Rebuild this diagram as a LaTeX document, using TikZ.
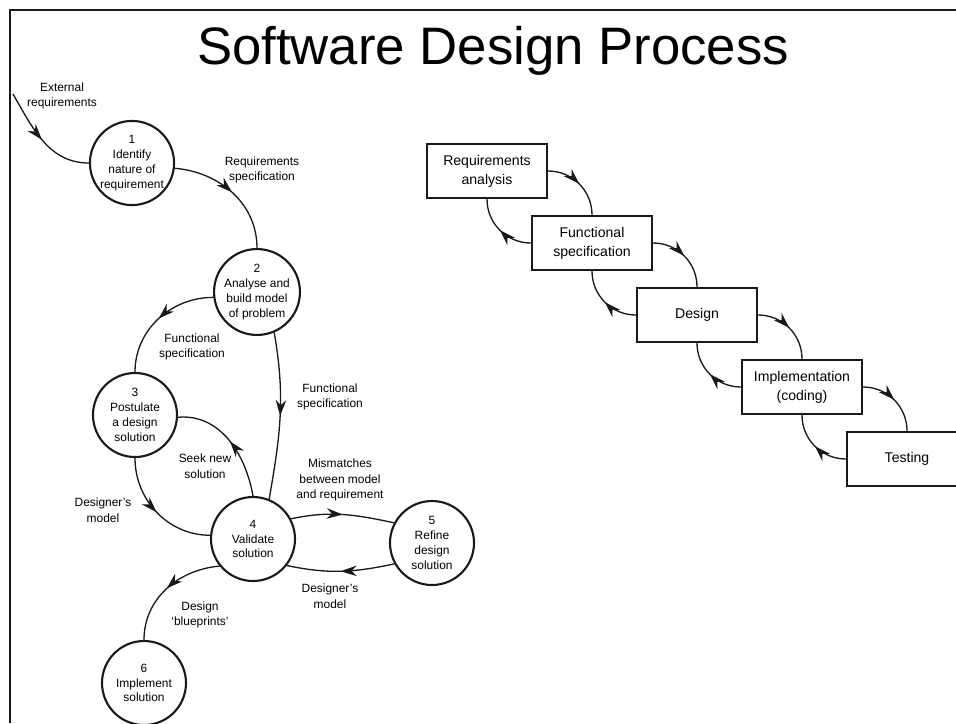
\documentclass[tikz,border=0pt]{standalone}
\usepackage{fontspec}
\setmainfont{Liberation Sans}
\usepackage{tikz}
\usetikzlibrary{arrows.meta, decorations.markings}
\definecolor{mydark}{RGB}{25,25,25}
\tikzset{
  stage/.style={circle, draw=mydark, line width=1.2pt, minimum size=1.68cm,
    inner sep=0pt, align=center, font=\fontsize{6.8}{8.4}\selectfont},
  block/.style={rectangle, draw=mydark, line width=1.3pt, minimum width=2.4cm,
    minimum height=1.08cm, align=center, font=\fontsize{8}{10.8}\selectfont},
  lbl/.style={align=center, inner sep=0pt, font=\fontsize{6.8}{8.8}\selectfont},
  flow/.style={line width=0.75pt, color=mydark, postaction={decorate},
    decoration={markings, mark=at position 0.5 with {\arrow{Stealth[length=3.2mm, width=2.1mm]}}}}
}
\begin{document}
\begin{tikzpicture}
  \useasboundingbox (0,0) rectangle (19.12,-14.46);
  \clip (0,0) rectangle (19.12,-14.46);
  \draw[line width=1.6pt, color=mydark] (0.2,-14.46) -- (0.2,-0.2) -- (19.12,-0.2);
  \node[font=\fontsize{30}{36}\selectfont, anchor=base] (title) at (9.86,-1.28) {Software Design Process};

  % design stages
  \node[stage] (identify) at (2.64,-3.26) {1\\Identify\\nature of\\requirement};
  \node[stage] (analyse) at (5.14,-5.84) {2\\Analyse and\\build model\\of problem};
  \node[stage] (postulate) at (2.70,-8.30) {3\\Postulate\\a design\\solution};
  \node[stage] (validate) at (5.06,-10.78) {4\\Validate\\solution};
  \node[stage] (refine) at (8.64,-10.86) {5\\Refine\\design\\solution};
  \node[stage] (implement) at (2.88,-13.66) {6\\Implement\\solution};
  \coordinate (extin) at (0.26,-1.88);

  \draw[flow] (extin) to[out=-60, in=180] (identify.west);
  \draw[flow] (identify.-7) to[out=-5, in=90] (analyse.north);
  \draw[flow] (analyse.187) to[out=180, in=90] (postulate.north);
  \draw[flow] (analyse.-67) to[out=-80, in=80] (validate.68);
  \draw[flow] (validate.north) to[out=100, in=5] (postulate.-3);
  \draw[flow] (postulate.south) to[out=-90, in=180] (validate.175);
  \draw[flow] (validate.28) to[out=12, in=168] (refine.152);
  \draw[flow] (refine.209) to[out=192, in=-12] (validate.-38);
  \draw[flow] (validate.219) to[out=185, in=90] (implement.north);

  \node[lbl] (lext) at (1.24,-1.92) {External\\requirements};
  \node[lbl] (lreq) at (5.24,-3.40) {Requirements\\specification};
  \node[lbl] (lfunc) at (3.84,-6.94) {Functional\\specification};
  \node[lbl] (lfuncr) at (6.60,-7.94) {Functional\\specification};
  \node[lbl] (lseek) at (4.10,-9.32) {Seek new\\solution};
  \node[lbl] (lmodel) at (2.06,-10.20) {Designer's\\model};
  \node[lbl] (lmis) at (6.80,-9.60) {Mismatches\\between model\\and requirement};
  \node[lbl] (lmodelr) at (6.60,-11.92) {Designer's\\model};
  \node[lbl] (lprint) at (4.00,-12.30) {Design\\`blueprints'};

  % waterfall
  \node[block] (reqan) at (9.74,-3.42) {Requirements\\analysis};
  \node[block] (funcspec) at (11.84,-4.86) {Functional\\specification};
  \node[block] (design) at (13.94,-6.30) {Design};
  \node[block] (coding) at (16.04,-7.74) {Implementation\\(coding)};
  \node[block] (testing) at (18.14,-9.18) {Testing};

  \foreach \a/\b in {reqan/funcspec, funcspec/design, design/coding, coding/testing} {
    \draw[flow] (\a.east) to[out=0, in=90] (\b.north);
    \draw[flow] (\b.west) to[out=180, in=-90] (\a.south);
  }
\end{tikzpicture}
\end{document}
